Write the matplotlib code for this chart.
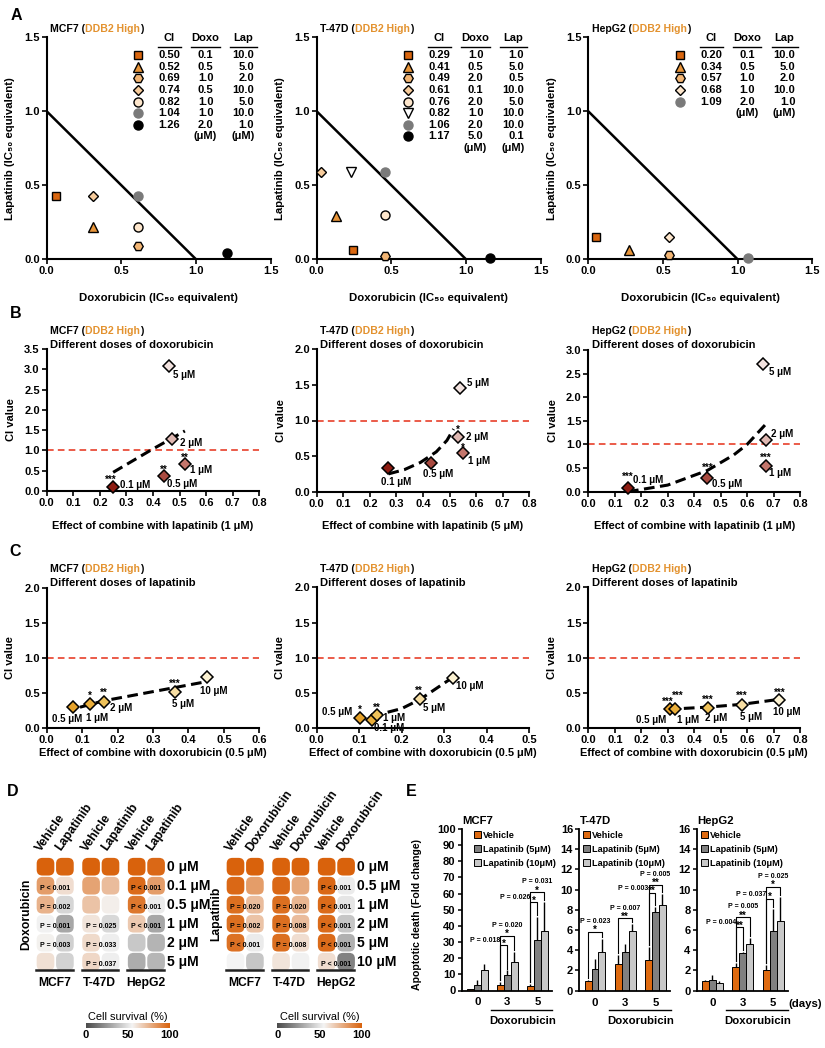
import numpy as np
import matplotlib
matplotlib.use('Agg')
import matplotlib.pyplot as plt
from matplotlib.patches import FancyBboxPatch, Patch
from matplotlib.colors import LinearSegmentedColormap
from matplotlib.ticker import FormatStrFormatter

# ---------------- data ----------------
cell_lines = ['MCF7', 'T-47D', 'HepG2']

# A: isobolograms (IC50 equivalents)
a_kind = [['sq', 'tri', 'hex', 'dia', 'cir', 'gray', 'black'],
          ['sq', 'tri', 'hex', 'dia', 'cir', 'vtri', 'gray', 'black'],
          ['sq', 'tri', 'hex', 'dia2', 'gray']]
a_ci = [['0.50', '0.52', '0.69', '0.74', '0.82', '1.04', '1.26'],
        ['0.29', '0.41', '0.49', '0.61', '0.76', '0.82', '1.06', '1.17'],
        ['0.20', '0.34', '0.57', '0.68', '1.09']]
a_doxo = [['0.1', '0.5', '1.0', '0.5', '1.0', '1.0', '2.0'],
          ['1.0', '0.5', '2.0', '0.1', '2.0', '1.0', '2.0', '5.0'],
          ['0.1', '0.5', '1.0', '1.0', '2.0']]
a_lap = [['10.0', '5.0', '2.0', '10.0', '5.0', '10.0', '1.0'],
         ['1.0', '5.0', '0.5', '10.0', '5.0', '10.0', '10.0', '0.1'],
         ['10.0', '5.0', '2.0', '10.0', '1.0']]
a_x = [[0.06, 0.31, 0.61, 0.31, 0.61, 0.61, 1.21],
       [0.24, 0.13, 0.46, 0.03, 0.46, 0.23, 0.46, 1.16],
       [0.05, 0.27, 0.54, 0.54, 1.07]]
a_y = [[0.43, 0.22, 0.09, 0.43, 0.22, 0.43, 0.04],
       [0.06, 0.29, 0.025, 0.59, 0.30, 0.59, 0.59, 0.01],
       [0.15, 0.065, 0.03, 0.15, 0.01]]
isobole_x = [0, 1]
isobole_y = [1, 0]

# B: different doses of doxorubicin
b_labels = ['0.1 μM', '0.5 μM', '1 μM', '2 μM', '5 μM']
b_x = [[0.25, 0.44, 0.52, 0.47, 0.46],
       [0.27, 0.43, 0.55, 0.53, 0.54],
       [0.15, 0.45, 0.67, 0.67, 0.66]]
b_y = [[0.11, 0.36, 0.66, 1.27, 3.07],
       [0.33, 0.41, 0.54, 0.77, 1.46],
       [0.08, 0.28, 0.55, 1.10, 2.70]]
b_stars = [['***', '**', '**', '', ''], ['', '', '*', '*', ''], ['***', '***', '***', '', '']]
b_trend_x = [[0.25, 0.39, 0.52], [0.27, 0.33, 0.39, 0.45, 0.49, 0.515],
             [0.15, 0.30, 0.45, 0.55, 0.60, 0.674]]
b_trend_y = [[0.46, 1.0, 1.48], [0.25, 0.31, 0.41, 0.56, 0.72, 0.88],
             [0.0, 0.14, 0.45, 0.78, 1.0, 1.45]]
b_ymax = [3.5, 2.0, 3.0]
b_lap_dose = ['1 μM', '5 μM', '1 μM']

# C: different doses of lapatinib
c_labels = [['0.5 μM', '1 μM', '2 μM', '5 μM', '10 μM'],
            ['0.5 μM', '0.1 μM', '1 μM', '5 μM', '10 μM'],
            ['0.5 μM', '1 μM', '2 μM', '5 μM', '10 μM']]
c_x = [[0.073, 0.122, 0.162, 0.362, 0.452],
       [0.102, 0.129, 0.141, 0.243, 0.32],
       [0.309, 0.329, 0.451, 0.58, 0.722]]
c_y = [[0.30, 0.34, 0.38, 0.52, 0.725],
       [0.15, 0.118, 0.19, 0.417, 0.72],
       [0.274, 0.274, 0.293, 0.33, 0.40]]
c_stars = [['', '*', '**', '***', ''], ['*', '', '**', '**', ''], ['***'] * 5]
c_trend_x = [[0.094, 0.16, 0.447], [0.13, 0.20, 0.243, 0.317], [0.30, 0.45, 0.58, 0.72]]
c_trend_y = [[0.30, 0.39, 0.66], [0.17, 0.28, 0.41, 0.71], [0.27, 0.30, 0.34, 0.41]]
c_xmax = [0.6, 0.5, 0.8]

# D: cell survival (%) ; columns = MCF7 V, MCF7 drug, T-47D V, T-47D drug, HepG2 V, HepG2 drug
d_dox_rows = ['0 μM', '0.1 μM', '0.5 μM', '1 μM', '2 μM', '5 μM']
d_dox_cols = ['Vehicle', 'Lapatinib']
d_dox_surv = [[100, 99, 100, 99, 100, 98],
              [82, 62, 80, 72, 97, 82],
              [75, 45, 70, 57, 93, 52],
              [54, 30, 60, 46, 68, 30],
              [56, 43, 63, 53, 41, 34],
              [61, 44, 64, 53, 32, 35]]
d_dox_p = [(1, 0, 'P < 0.001'), (2, 0, 'P = 0.002'), (3, 0, 'P = 0.001'), (4, 0, 'P = 0.003'),
           (3, 1, 'P = 0.025'), (4, 1, 'P = 0.033'), (5, 1, 'P = 0.037'),
           (1, 2, 'P < 0.001'), (2, 2, 'P < 0.001'), (3, 2, 'P < 0.001')]
d_lap_rows = ['0 μM', '0.5 μM', '1 μM', '2 μM', '5 μM', '10 μM']
d_lap_cols = ['Vehicle', 'Doxorubicin']
d_lap_surv = [[100, 100, 100, 100, 100, 100],
              [98, 82, 98, 78, 98, 52],
              [96, 72, 96, 74, 97, 50],
              [96, 70, 96, 72, 97, 40],
              [95, 52, 96, 62, 97, 33],
              [55, 40, 60, 54, 62, 18]]
d_lap_p = [(2, 0, 'P = 0.020'), (3, 0, 'P = 0.002'), (4, 0, 'P < 0.001'),
           (2, 1, 'P = 0.020'), (3, 1, 'P = 0.008'), (4, 1, 'P = 0.008'),
           (1, 2, 'P < 0.001'), (2, 2, 'P < 0.001'), (3, 2, 'P < 0.001'),
           (4, 2, 'P < 0.001'), (5, 2, 'P < 0.001')]

# E: apoptotic death (fold change)
e_days = ['0', '3', '5']
e_series = ['Vehicle', 'Lapatinib (5μM)', 'Lapatinib (10μM)']
e_veh = [[0.7, 3.3, 2.9], [1.0, 2.6, 3.0], [1.0, 2.35, 2.0]]
e_veh_err = [[0.3, 1.7, 1.2], [0.05, 0.9, 1.3], [0.05, 0.4, 0.5]]
e_lap5 = [[3.7, 9.7, 31.0], [2.1, 3.8, 7.8], [1.1, 3.7, 5.9]]
e_lap5_err = [[2.5, 2.7, 14.8], [1.0, 0.8, 0.5], [0.5, 0.1, 2.2]]
e_lap10 = [[12.4, 17.5, 37.0], [3.8, 5.9, 8.5], [0.75, 4.65, 6.9]]
e_lap10_err = [[3.7, 6.2, 18.0], [1.3, 0.7, 1.1], [0.2, 0.55, 2.4]]
e_ymax = [100, 16, 16]
e_sig_day = [[1, 1, 2, 2], [0, 1, 2, 2], [1, 1, 2, 2]]
e_sig_bar = [[1, 2, 1, 2], [2, 2, 1, 2], [1, 2, 1, 2]]
e_sig_level = [[28.2, 34, 54.6, 61], [5.84, 7.16, 9.7, 10.5], [6.3, 7.3, 9.1, 10.3]]
e_sig_p = [['P = 0.018', 'P = 0.020', 'P = 0.026', 'P = 0.031'],
           ['P = 0.023', 'P = 0.007', 'P = 0.003', 'P = 0.005'],
           ['P = 0.004', 'P = 0.005', 'P = 0.037', 'P = 0.025']]
e_sig_star = [['*', '*', '*', '*'], ['*', '**', '**', '**'], ['**', '**', '*', '*']]

# ---------------- style ----------------
W, H = 825, 1048
plt.rcParams['font.family'] = ['Liberation Sans', 'DejaVu Sans']
plt.rcParams['font.weight'] = 'bold'
plt.rcParams['axes.labelweight'] = 'bold'
ORANGE = '#e3922f'

fig = plt.figure(figsize=(W / 100, H / 100), dpi=100)
fig.patch.set_facecolor('white')


def px_axes(l, t, r, b):
    return fig.add_axes([l / W, 1 - b / H, (r - l) / W, (b - t) / H])


def gp_axes(ax):
    ax.spines['top'].set_visible(False)
    ax.spines['right'].set_visible(False)
    ax.spines['left'].set_linewidth(1.5)
    ax.spines['bottom'].set_linewidth(1.5)
    ax.tick_params(direction='out', length=3.5, width=1.2, labelsize=8, pad=1.5)


def rich(x, y, parts, size=7.6):
    rend = fig.canvas.get_renderer()
    for s, c in parts:
        t = fig.text(x / W, 1 - y / H, s, color=c, fontsize=size, ha='left', va='center')
        x += t.get_window_extent(rend).width


def title_parts(name):
    return [(name + ' (', 'black'), ('DDB2 High', ORANGE), (')', 'black')]


# panel letters
for s, x, y in [('A', 16, 15), ('B', 16, 314), ('C', 15, 551), ('D', 13, 791), ('E', 411, 791)]:
    fig.text(x / W, 1 - y / H, s, fontsize=11.5, ha='center', va='center')

# ---------------- A ----------------
mstyle = {'sq': ('s', '#d9660f', 'black', 6.3), 'tri': ('^', '#e8953a', 'black', 7),
          'hex': ('H', '#f2b574', 'black', 6.8), 'dia': ('D', '#f7cc9c', 'black', 5.6),
          'dia2': ('D', '#fde6cc', 'black', 5.6), 'cir': ('o', '#fde6cc', 'black', 6.5),
          'vtri': ('v', 'white', 'black', 7), 'gray': ('o', '#7a7a7a', '#7a7a7a', 6.5),
          'black': ('o', 'black', 'black', 6.5)}
a_left = [46.7, 316.7, 588.3]
for k in range(3):
    l = a_left[k]
    ax = px_axes(l, 37.3, l + 224, 259.3)
    gp_axes(ax)
    ax.set_xlim(0, 1.5)
    ax.set_ylim(0, 1.5)
    ax.set_xticks([0, 0.5, 1.0, 1.5])
    ax.set_yticks([0, 0.5, 1.0, 1.5])
    ax.xaxis.set_major_formatter(FormatStrFormatter('%.1f'))
    ax.yaxis.set_major_formatter(FormatStrFormatter('%.1f'))
    ax.plot(isobole_x, isobole_y, color='black', lw=1.8, zorder=2)
    for x, y, kd in zip(a_x[k], a_y[k], a_kind[k]):
        m, fc, ec, ms = mstyle[kd]
        ax.plot(x, y, marker=m, ms=ms, mfc=fc, mec=ec, mew=1.0, ls='none', clip_on=False, zorder=4)
    # legend table
    tr = ax.transAxes
    for txt, xc in [('CI', 0.548), ('Doxo', 0.709), ('Lap', 0.876)]:
        ax.text(xc, 0.995, txt, transform=tr, ha='center', va='center', fontsize=8)
    for x0, x1 in [(0.497, 0.600), (0.646, 0.773), (0.818, 0.937)]:
        ax.plot([x0, x1], [0.958, 0.958], transform=tr, color='black', lw=1.0, clip_on=False)
    n = len(a_ci[k])
    for i in range(n):
        yy = 0.920 - i * 0.0523
        m, fc, ec, ms = mstyle[a_kind[k][i]]
        ax.plot(0.408, yy, marker=m, ms=ms, mfc=fc, mec=ec, mew=1.0, transform=tr, clip_on=False)
        ax.text(0.548, yy, a_ci[k][i], transform=tr, ha='center', va='center', fontsize=8)
        ax.text(0.709, yy, a_doxo[k][i], transform=tr, ha='center', va='center', fontsize=8)
        ax.text(0.925, yy, a_lap[k][i], transform=tr, ha='right', va='center', fontsize=8)
    yy = 0.920 - n * 0.0523
    ax.text(0.709, yy, '(μM)', transform=tr, ha='center', va='center', fontsize=8)
    ax.text(0.876, yy, '(μM)', transform=tr, ha='center', va='center', fontsize=8)
    ax.set_xlabel('Doxorubicin (IC₅₀ equivalent)', fontsize=8.2)
    ax.xaxis.set_label_coords(0.5, -0.15)
    ax.set_ylabel('Lapatinib (IC₅₀ equivalent)', fontsize=8.2)
    ax.yaxis.set_label_coords(-0.141, 0.5)
    rich(l + 3.5, 29, title_parts(cell_lines[k]))


# ---------------- B / C ----------------
def draw_ci(ax, xs, ys, cols, labels, stars, lab_off, star_off, tx, ty):
    ax.axhline(1.0, color='#e8402a', lw=1.2, dashes=(4, 2.5), zorder=1)
    ax.plot(tx, ty, color='black', lw=2.2, dashes=(3.5, 1.8), zorder=2)
    for x, y, c, lab, st, lo, so in zip(xs, ys, cols, labels, stars, lab_off, star_off):
        ax.plot(x, y, marker='D', ms=5.8, mfc=c, mec='black', mew=1.1, ls='none',
                zorder=3, clip_on=False)
        ax.annotate(lab, (x, y), xytext=(lo[0], lo[1]), textcoords='offset points',
                    ha=lo[2], va='center', fontsize=7, zorder=1, annotation_clip=False)
        if st:
            ax.annotate(st, (x, y), xytext=(so[0], so[1]), textcoords='offset points',
                        ha='center', va='center', fontsize=7, zorder=3, annotation_clip=False)


b_cols = ['#8c1c12', '#a84a40', '#c4766c', '#dfb8b2', '#f2e2df']
c_cols = ['#e6a22a', '#eaae3a', '#efc25a', '#f6dda2', '#fcf2d2']
b_lab_off = [[(5.3, 1.2, 'left'), (2.4, -5.8, 'left'), (3.6, -4.3, 'left'), (6.2, -2.2, 'left'), (2.9, -5.8, 'left')],
             [(5.8, -10, 'center'), (5.3, -8.4, 'center'), (3.6, -5.3, 'left'), (6, 0, 'left'), (4.6, 3.6, 'left')],
             [(3.8, 5.5, 'left'), (3.1, -4.1, 'left'), (2.4, -5, 'left'), (3.6, 3.8, 'left'), (4.1, -5.8, 'left')]]
b_star_off = [[(-2, 4.5), (0, 4.5), (0, 4.5), (0, 0), (0, 0)],
              [(0, 0), (0, 0), (0, 3.8), (0, 5), (0, 0)],
              [(0, 8.1), (0, 7.4), (0, 5.5), (0, 0), (0, 0)]]
c_lab_off = [[(-3.8, -8.6, 'center'), (5.3, -9.6, 'center'), (4.3, -4.8, 'left'), (5.8, -9.1, 'center'), (5.3, -9.6, 'center')],
             [(-5.3, 4.3, 'right'), (12.7, -5.5, 'center'), (4.8, -1.9, 'left'), (2.4, -6.7, 'left'), (2.4, -5.8, 'left')],
             [(-2.5, -7.9, 'right'), (1.5, -7.9, 'left'), (5.8, -7.7, 'center'), (6.5, -8.4, 'center'), (5.3, -8.4, 'center')]]
c_star_off = [[(0, 0), (0, 5.8), (0, 6.3), (0, 5.8), (0, 0)],
              [(-0.5, 5.8), (0, 0), (0, 5), (-1, 5.5), (0, 0)],
              [(-1.5, 5.5), (1.5, 9.6), (0, 5.3), (0, 6.3), (0, 5.5)]]

b_box = [(46.7, 349, 259.3, 491), (316.7, 349.3, 529.3, 491.7), (588.3, 350, 800, 491.7)]
c_box = [(46.7, 587.7, 259.3, 728.3), (316.7, 587.3, 529.3, 728.3), (588.3, 587.3, 800, 728.3)]
for k in range(3):
    ax = px_axes(*b_box[k])
    gp_axes(ax)
    ax.set_xlim(0, 0.8)
    ax.set_ylim(0, b_ymax[k])
    ax.set_xticks(np.arange(0, 0.81, 0.1))
    ax.set_yticks(np.arange(0, b_ymax[k] + 0.01, 0.5))
    ax.xaxis.set_major_formatter(FormatStrFormatter('%.1f'))
    ax.yaxis.set_major_formatter(FormatStrFormatter('%.1f'))
    draw_ci(ax, b_x[k], b_y[k], b_cols, b_labels, b_stars[k], b_lab_off[k], b_star_off[k],
            b_trend_x[k], b_trend_y[k])
    ax.set_xlabel('Effect of combine with lapatinib (%s)' % b_lap_dose[k], fontsize=7.9)
    ax.xaxis.set_label_coords(0.5, -0.209)
    ax.set_ylabel('CI value', fontsize=8)
    ax.yaxis.set_label_coords(-0.144, 0.5)
    l = b_box[k][0]
    rich(l + 3.5, 330.7, title_parts(cell_lines[k]))
    fig.text((l + 3.5) / W, 1 - 345 / H, 'Different doses of doxorubicin', fontsize=8.1, va='center')

    ax = px_axes(*c_box[k])
    gp_axes(ax)
    ax.set_xlim(0, c_xmax[k])
    ax.set_ylim(0, 2.0)
    ax.set_xticks(np.arange(0, c_xmax[k] + 0.01, 0.1))
    ax.set_yticks(np.arange(0, 2.01, 0.5))
    ax.xaxis.set_major_formatter(FormatStrFormatter('%.1f'))
    ax.yaxis.set_major_formatter(FormatStrFormatter('%.1f'))
    draw_ci(ax, c_x[k], c_y[k], c_cols, c_labels[k], c_stars[k], c_lab_off[k], c_star_off[k],
            c_trend_x[k], c_trend_y[k])
    ax.set_xlabel('Effect of combine with doxorubicin (0.5 μM)', fontsize=7.9)
    ax.xaxis.set_label_coords(0.5, -0.142)
    ax.set_ylabel('CI value', fontsize=8)
    ax.yaxis.set_label_coords(-0.149, 0.5)
    rich(l + 3.5, 569, title_parts(cell_lines[k]))
    fig.text((l + 3.5) / W, 1 - 583.3 / H, 'Different doses of lapatinib', fontsize=8.1, va='center')

# ---------------- D ----------------
cmap = LinearSegmentedColormap.from_list('surv', [(0, '#4b4b4b'), (0.55, '#f4f4f4'), (1, '#d9620c')])
GP = 2.35
col_x = [g * GP + j for g in range(3) for j in range(2)]


def draw_grid(left_px, vals, rows, cols, drug, pvals):
    ax = px_axes(left_px - 9.7, 857.2, left_px - 9.7 + 6.7 * 19.4, 857.2 + 114)
    ax.set_xlim(-0.5, 6.2)
    ax.set_ylim(5.5, -0.5)
    ax.axis('off')
    for r in range(6):
        for c in range(6):
            ax.add_patch(FancyBboxPatch((col_x[c] - 0.455, r - 0.465), 0.91, 0.93,
                                        boxstyle='round,pad=0,rounding_size=0.3',
                                        fc=cmap(vals[r][c] / 100), ec='none', clip_on=False))
        ax.text(6.28, r, rows[r], ha='left', va='center', fontsize=10)
    for c in range(6):
        ax.text(col_x[c] - 0.22, -0.8, cols[c % 2], rotation=55, rotation_mode='anchor',
                ha='left', va='baseline', fontsize=8.8)
    for g in range(3):
        x0 = col_x[2 * g]
        ax.plot([x0 - 0.48, x0 + 1.4], [5.44, 5.44], color='#222222', lw=1.8, clip_on=False)
        ax.text(x0 + 0.45, 6.1, cell_lines[g], ha='center', va='center', fontsize=8.7)
    for r, g, s in pvals:
        ax.text(col_x[2 * g] + 0.5, r + 0.13, s, ha='center', va='center', fontsize=5)
    ax.text(-1.0, 2.5, drug, rotation=90, ha='center', va='center', fontsize=8.7)


def draw_cbar(l, r):
    cax = px_axes(l, 1023.3, r, 1027.7)
    cax.imshow(np.linspace(0, 100, 256)[None, :], aspect='auto', cmap=cmap, extent=[0, 100, 0, 1])
    for s in cax.spines.values():
        s.set_visible(False)
    cax.set_yticks([])
    cax.set_xticks([0, 50, 100])
    cax.tick_params(length=0, labelsize=8, pad=1.5)
    cax.set_title('Cell survival (%)', fontsize=7.9, pad=2.5)


draw_grid(45.5, d_dox_surv, d_dox_rows, d_dox_cols, 'Doxorubicin', d_dox_p)
draw_grid(235.5, d_lap_surv, d_lap_rows, d_lap_cols, 'Lapatinib', d_lap_p)
draw_cbar(86, 170)
draw_cbar(277.3, 361.7)

# ---------------- E ----------------
e_box = [(461.7, 829, 551.7, 990.5), (579.3, 829, 670, 990.7), (696.7, 829, 787.7, 990.7)]
e_leg_x = [0.14, 0.045, 0.045]
e_colors = ['#de6a10', '#808080', '#c8c8c8']
bw = 0.23
for k in range(3):
    ax = px_axes(*e_box[k])
    ax.spines['top'].set_visible(False)
    ax.spines['right'].set_visible(False)
    ax.spines['left'].set_linewidth(1.3)
    ax.spines['bottom'].set_linewidth(1.3)
    ax.set_xlim(-0.52, 2.48)
    ax.set_ylim(0, e_ymax[k])
    step = 10 if e_ymax[k] == 100 else 2
    ax.set_yticks(np.arange(0, e_ymax[k] + 0.1, step))
    ax.tick_params(axis='y', direction='out', length=3, width=1.1, labelsize=8, pad=1.5)
    ax.set_xticks([0, 1, 2])
    ax.set_xticklabels(e_days)
    ax.tick_params(axis='x', length=0, labelsize=8.2, pad=5)
    xs = np.arange(3)
    series = [(e_veh[k], e_veh_err[k]), (e_lap5[k], e_lap5_err[k]), (e_lap10[k], e_lap10_err[k])]
    for j, (v, er) in enumerate(series):
        xx = xs + (j - 1) * bw
        ax.bar(xx, v, width=bw, color=e_colors[j], edgecolor='black', linewidth=0.7, zorder=2,
               label=e_series[j])
        ax.errorbar(xx, v, yerr=[np.zeros(3), er], fmt='none', ecolor='black', elinewidth=1.0,
                    capsize=0, zorder=3)
    ymax = e_ymax[k]
    gap = ymax * 0.012
    for d, b, lev, p, st in zip(e_sig_day[k], e_sig_bar[k], e_sig_level[k], e_sig_p[k], e_sig_star[k]):
        x0 = d - bw
        x1 = d + (b - 1) * bw
        lb = series[0][0][d] + series[0][1][d] + gap
        rb = series[b][0][d] + series[b][1][d] + gap
        ax.plot([x0, x0, x1, x1], [lb, lev, lev, rb], color='black', lw=0.8, zorder=4, clip_on=False)
        xm = (x0 + x1) / 2
        ax.annotate(st, (xm, lev), xytext=(0, -2.5), textcoords='offset points', ha='center',
                    va='bottom', fontsize=7, annotation_clip=False)
        if b == 1:
            ax.annotate(p, (xm, lev), xytext=(-2.5, 3.2), textcoords='offset points', ha='right',
                        va='center', fontsize=5, annotation_clip=False)
        else:
            ax.annotate(p, (xm, lev), xytext=(0, 7.2), textcoords='offset points', ha='center',
                        va='center', fontsize=5, annotation_clip=False)
    tr = ax.get_xaxis_transform()
    ax.plot([1 - 0.55, 2 + 0.5], [-0.118, -0.118], transform=tr, color='black', lw=1.0, clip_on=False)
    ax.text(1.5, -0.186, 'Doxorubicin', transform=tr, ha='center', va='center', fontsize=8.2)
    handles = [Patch(facecolor=e_colors[j], edgecolor='black', linewidth=0.7, label=e_series[j])
               for j in range(3)]
    ax.legend(handles=handles, loc='upper left', bbox_to_anchor=(e_leg_x[k], 0.99), frameon=False,
              fontsize=6.6, handlelength=0.75, handleheight=0.75, handletextpad=0.2,
              labelspacing=0.55, borderaxespad=0, borderpad=0)
    l = e_box[k][0]
    fig.text((l + 1) / W, 1 - 821 / H, cell_lines[k], fontsize=8.2, ha='left', va='center')
    if k == 0:
        ax.set_ylabel('Apoptotic death (Fold change)', fontsize=7.6)
        ax.yaxis.set_label_coords(-0.444, 0.47)
    if k == 2:
        ax.text(1.005, -0.08, '(days)', transform=ax.transAxes, ha='left', va='center', fontsize=8.2)

fig.savefig('out.png', dpi=100, facecolor='white')
